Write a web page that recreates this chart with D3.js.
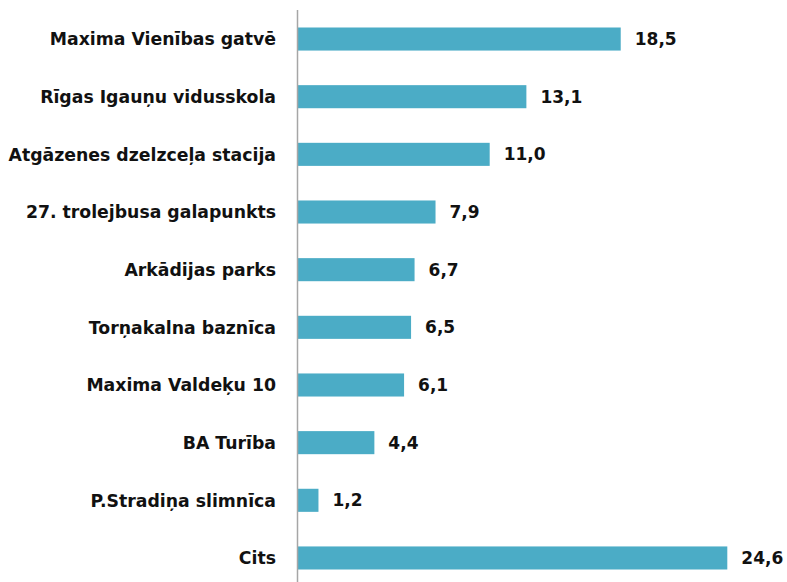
<!DOCTYPE html>
<html>
<head>
<meta charset="utf-8">
<script src="https://cdn.jsdelivr.net/npm/d3@7"></script>
<style>
  body { margin: 0; background: #fff; }
  text { font-family: "DejaVu Sans", sans-serif; font-weight: bold; fill: #111; }
</style>
</head>
<body>
<div id="chart"></div>
<script>
'use strict';
var categories = [
    'Maxima Vienības gatvē',
    'Rīgas Igauņu vidusskola',
    'Atgāzenes dzelzceļa stacija',
    '27. trolejbusa galapunkts',
    'Arkādijas parks',
    'Torņakalna baznīca',
    'Maxima Valdeķu 10',
    'BA Turība',
    'P.Stradiņa slimnīca',
    'Cits'
];
var values = [18.5, 13.1, 11.0, 7.9, 6.7, 6.5, 6.1, 4.4, 1.2, 24.6];
var valueLabels = ['18,5', '13,1', '11,0', '7,9', '6,7', '6,5', '6,1', '4,4', '1,2', '24,6'];

var width = 787,
    height = 582;

var x0 = 297.5;
var x = d3.scaleLinear().domain([0, 24.6]).range([x0, 727.3]);
var y = d3.scaleBand().domain(categories).range([10.2, 586.8]).paddingInner(0.6).paddingOuter(0.3);

var svg = d3.select('#chart').append('svg')
    .attr('width', width)
    .attr('height', height);

var rows = svg.selectAll('g.row').data(categories)
    .enter().append('g')
    .attr('class', 'row');

rows.append('rect')
    .attr('x', x(0))
    .attr('y', function (d) { return y(d); })
    .attr('width', function (d, i) { return x(values[i]) - x(0); })
    .attr('height', y.bandwidth())
    .attr('fill', '#4BACC6');

rows.append('text')
    .attr('x', 276)
    .attr('y', function (d) { return y(d) + y.bandwidth() / 2; })
    .attr('dy', '0.36em')
    .attr('text-anchor', 'end')
    .style('font-size', '17.3px')
    .text(function (d) { return d; });

rows.append('text')
    .attr('x', function (d, i) { return x(values[i]) + 14; })
    .attr('y', function (d) { return y(d) + y.bandwidth() / 2; })
    .attr('dy', '0.36em')
    .style('font-size', '17px')
    .text(function (d, i) { return valueLabels[i]; });

svg.append('line')
    .attr('x1', x0).attr('x2', x0)
    .attr('y1', 10).attr('y2', height)
    .attr('stroke', '#a6a6a6')
    .attr('stroke-width', 1.5);
</script>
</body>
</html>
